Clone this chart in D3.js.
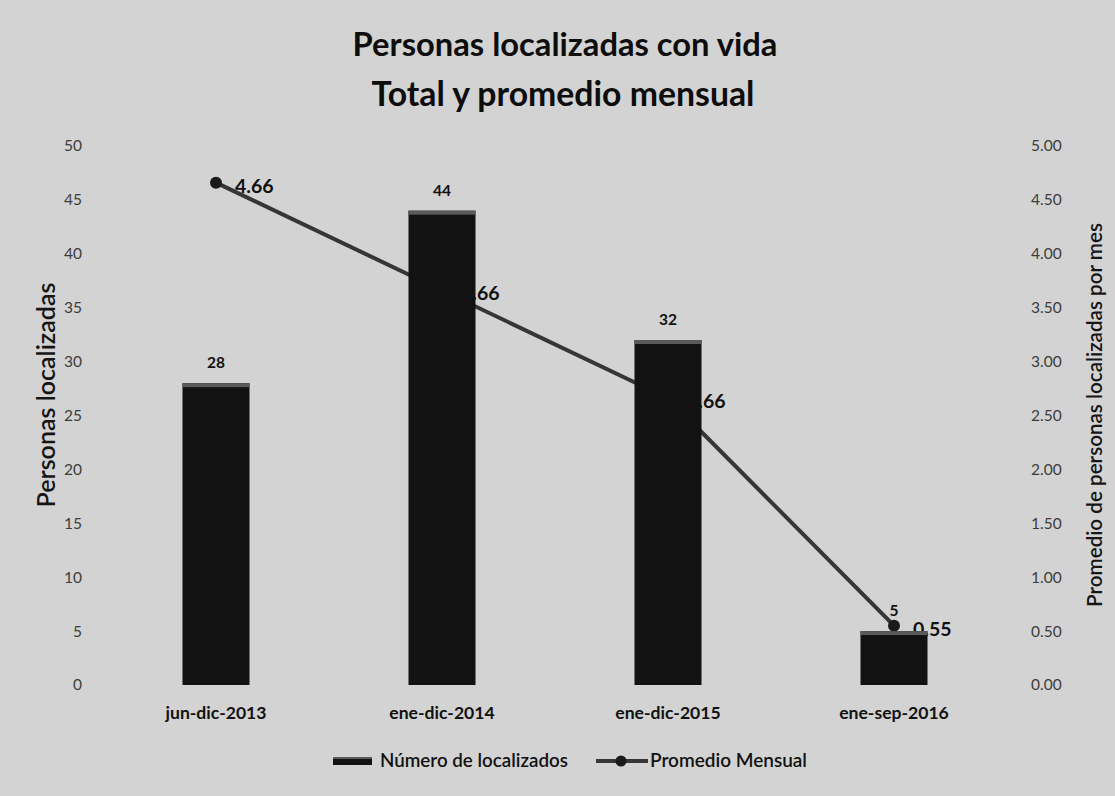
<!DOCTYPE html>
<html>
<head>
<meta charset="utf-8">
<script src="https://cdn.jsdelivr.net/npm/d3@7"></script>
<style>
  html, body { margin: 0; padding: 0; background: #d3d3d3; }
  svg { display: block; font-family: Lato, "Open Sans", sans-serif; }
</style>
</head>
<body>
<svg id="chart" width="1115" height="796"></svg>
<script>
// Periods and values
const categories = ["jun-dic-2013", "ene-dic-2014", "ene-dic-2015", "ene-sep-2016"];
const totals = [28, 44, 32, 5];                 // Número de localizados
const monthlyAvg = [4.66, 3.66, 2.66, 0.55];    // Promedio Mensual
const leftTicks = [0, 5, 10, 15, 20, 25, 30, 35, 40, 45, 50];
const rightTicks = [0, 0.5, 1, 1.5, 2, 2.5, 3, 3.5, 4, 4.5, 5];
const titleLines = ["Personas localizadas con vida", "Total y promedio mensual"];
const seriesNames = ["Número de localizados", "Promedio Mensual"];
const axisTitles = ["Personas localizadas", "Promedio de personas localizadas por mes"];

const svg = d3.select("#chart");
const W = 1115, H = 796;
const plot = { left: 103, right: 1007, top: 146, bottom: 685 };
const FONT = "Lato, 'Open Sans', sans-serif";

svg.append("rect").attr("width", W).attr("height", H).attr("fill", "#d3d3d3");

const x = d3.scaleBand()
  .domain(categories)
  .range([plot.left, plot.right])
  .paddingInner(0.7035)
  .paddingOuter(0.7035 / 2);
const yL = d3.scaleLinear().domain([0, 50]).range([plot.bottom, plot.top]);
const yR = d3.scaleLinear().domain([0, 5]).range([plot.bottom, plot.top]);
const cx = c => x(c) + x.bandwidth() / 2;

// Resize a text node so its rendered width equals the given width
function fitWidth(sel, target) {
  sel.each(function () {
    const fs = parseFloat(this.getAttribute("font-size"));
    const w = this.getComputedTextLength();
    if (w > 0) this.setAttribute("font-size", (fs * target / w).toFixed(2));
  });
}

// Title
const t1 = svg.append("text").attr("x", 565).attr("y", 56)
  .attr("text-anchor", "middle").attr("font-size", 30).attr("font-weight", 700)
  .attr("fill", "#0d0d0d").text(titleLines[0]);
fitWidth(t1, 425);
const t2 = svg.append("text").attr("x", 563).attr("y", 106)
  .attr("text-anchor", "middle").attr("font-size", 30).attr("font-weight", 700)
  .attr("fill", "#0d0d0d").text(titleLines[1]);
fitWidth(t2, 383);

// Axes (labels only)
const axL = svg.append("g").attr("transform", `translate(${plot.left - 15},0)`)
  .call(d3.axisLeft(yL).tickValues(leftTicks).tickSize(0).tickPadding(6).tickFormat(d3.format("d")));
const axR = svg.append("g").attr("transform", `translate(${plot.right + 18},0)`)
  .call(d3.axisRight(yR).tickValues(rightTicks).tickSize(0).tickPadding(6).tickFormat(d3.format(".2f")));
[axL, axR].forEach(a => {
  a.select(".domain").remove();
  a.selectAll("text").attr("font-size", 15.5).attr("fill", "#3c3c3c")
    .attr("font-family", FONT);
});

// Category labels
const axB = svg.append("g").attr("transform", `translate(0,${plot.bottom + 22})`)
  .call(d3.axisBottom(x).tickSize(0).tickPadding(0));
axB.select(".domain").remove();
axB.selectAll("text").attr("font-size", 14).attr("font-weight", 700).attr("fill", "#111")
  .attr("font-family", FONT);
{
  const first = axB.select(".tick text").node();
  const fs = 14 * 101 / first.getComputedTextLength();
  axB.selectAll("text").attr("font-size", fs.toFixed(2));
}

// Axis titles
const at1 = svg.append("text").attr("transform", `translate(55,395) rotate(-90)`)
  .attr("text-anchor", "middle").attr("font-size", 14).attr("font-weight", 600)
  .attr("fill", "#151515").text(axisTitles[0]);
fitWidth(at1, 225);
const at2 = svg.append("text").attr("transform", `translate(1102,415) rotate(-90)`)
  .attr("text-anchor", "middle").attr("font-size", 14).attr("font-weight", 600)
  .attr("fill", "#151515").text(axisTitles[1]);
fitWidth(at2, 384);

// Monthly average line (sits behind the bars)
const lineData = categories.map((c, i) => ({ c, v: monthlyAvg[i] }));
svg.append("path").datum(lineData)
  .attr("fill", "none").attr("stroke", "#363636").attr("stroke-width", 4)
  .attr("stroke-linejoin", "round")
  .attr("d", d3.line().x(d => cx(d.c)).y(d => yR(d.v)));
svg.selectAll("circle.pt").data(lineData).join("circle").attr("class", "pt")
  .attr("cx", d => cx(d.c)).attr("cy", d => yR(d.v)).attr("r", 6).attr("fill", "#1a1a1a");
svg.selectAll("text.avg").data(lineData).join("text").attr("class", "avg")
  .attr("x", d => cx(d.c) + 19).attr("y", d => yR(d.v) + 10)
  .attr("font-size", 19.5).attr("font-weight", 700).attr("fill", "#111")
  .text(d => d3.format(".2f")(d.v));

// Bars
const barData = categories.map((c, i) => ({ c, v: totals[i] }));
svg.selectAll("rect.bar").data(barData).join("rect").attr("class", "bar")
  .attr("x", d => x(d.c)).attr("y", d => yL(d.v))
  .attr("width", x.bandwidth()).attr("height", d => yL(0) - yL(d.v))
  .attr("fill", "#121212");
svg.selectAll("rect.cap").data(barData).join("rect").attr("class", "cap")
  .attr("x", d => x(d.c)).attr("y", d => yL(d.v))
  .attr("width", x.bandwidth()).attr("height", 4)
  .attr("fill", "#5a5a5a");
svg.selectAll("text.tot").data(barData).join("text").attr("class", "tot")
  .attr("x", d => cx(d.c)).attr("y", d => yL(d.v) - 15)
  .attr("text-anchor", "middle").attr("font-size", 15.5).attr("font-weight", 700)
  .attr("fill", "#111").text(d => d.v);

// Legend
const lg = svg.append("g");
lg.append("rect").attr("x", 333).attr("y", 757).attr("width", 39).attr("height", 8).attr("fill", "#121212");
lg.append("rect").attr("x", 333).attr("y", 757).attr("width", 39).attr("height", 2).attr("fill", "#5a5a5a");
const l1 = lg.append("text").attr("x", 380).attr("y", 767).attr("font-size", 15)
  .attr("font-weight", 600).attr("fill", "#111").text(seriesNames[0]);
fitWidth(l1, 188);
lg.append("line").attr("x1", 596).attr("x2", 648).attr("y1", 761).attr("y2", 761)
  .attr("stroke", "#363636").attr("stroke-width", 4);
lg.append("circle").attr("cx", 621).attr("cy", 761).attr("r", 5.5).attr("fill", "#1a1a1a");
const l2 = lg.append("text").attr("x", 650).attr("y", 767).attr("font-size", 15)
  .attr("font-weight", 600).attr("fill", "#111").text(seriesNames[1]);
fitWidth(l2, 157);
</script>
</body>
</html>
